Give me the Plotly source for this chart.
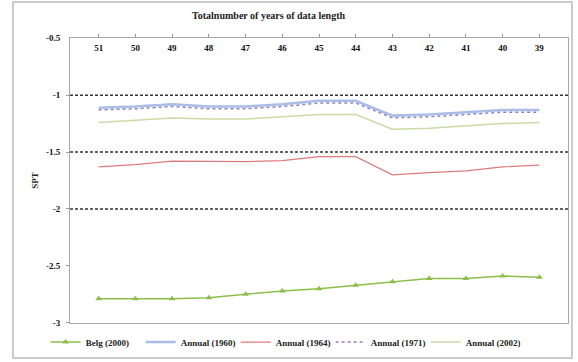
import plotly.graph_objects as go

years = ["51", "50", "49", "48", "47", "46", "45", "44", "43", "42", "41", "40", "39"]
belg_2000 = [-2.79, -2.79, -2.79, -2.78, -2.75, -2.72, -2.70, -2.67, -2.64, -2.61, -2.61, -2.59, -2.60]
annual_1960 = [-1.11, -1.10, -1.08, -1.10, -1.10, -1.08, -1.05, -1.05, -1.18, -1.17, -1.15, -1.13, -1.13]
annual_1964 = [-1.63, -1.61, -1.58, -1.58, -1.585, -1.575, -1.54, -1.54, -1.70, -1.68, -1.665, -1.63, -1.615]
annual_1971 = [-1.13, -1.12, -1.10, -1.12, -1.12, -1.10, -1.07, -1.07, -1.20, -1.19, -1.17, -1.15, -1.15]
annual_2002 = [-1.24, -1.22, -1.20, -1.21, -1.21, -1.19, -1.17, -1.17, -1.30, -1.29, -1.27, -1.25, -1.24]
ref_levels = [-1, -1.5, -2]
ytick_vals = [-0.5, -1, -1.5, -2, -2.5, -3]
ytick_text = ["-0.5", "-1", "-1.5", "-2", "-2.5", "-3"]

FONT = "Liberation Serif"

fig = go.Figure()
fig.add_trace(go.Scatter(x=years, y=belg_2000, name="<b>Belg (2000)</b>", mode="lines+markers",
                         line=dict(color="#8CBF4A", width=1.5),
                         marker=dict(symbol="triangle-up", size=6, color="#8CBF4A")))
fig.add_trace(go.Scatter(x=years, y=annual_1960, name="<b>Annual (1960)</b>", mode="lines",
                         line=dict(color="#A9BDE6", width=2.5)))
fig.add_trace(go.Scatter(x=years, y=annual_1964, name="<b>Annual (1964)</b>", mode="lines",
                         line=dict(color="#E07A7A", width=1.2)))
fig.add_trace(go.Scatter(x=years, y=annual_1971, name="<b>Annual (1971)</b>", mode="lines",
                         line=dict(color="#8A86C8", width=1.5, dash="dot")))
fig.add_trace(go.Scatter(x=years, y=annual_2002, name="<b>Annual (2002)</b>", mode="lines",
                         line=dict(color="#CADBA6", width=1.5)))

for lv in ref_levels:
    fig.add_shape(type="line", xref="paper", x0=0, x1=1, yref="y", y0=lv, y1=lv,
                  line=dict(color="#333333", width=1.5, dash="3px,2px"), layer="below")

# outer frame
fig.add_shape(type="rect", xref="paper", yref="paper", x0=-0.1145, x1=1.008, y0=-0.123, y1=1.126,
              line=dict(color="#BBBBBB", width=1.5), layer="below")

fig.add_annotation(text="<b>Totalnumber of years of data length</b>", xref="paper", yref="paper",
                   x=0.40, y=1.08, xanchor="center", yanchor="middle", showarrow=False,
                   font=dict(family=FONT, size=10, color="#222222"))

# top tick label hidden by plotly next to the inside x labels: draw it as text at its tick
fig.add_annotation(text="<b>%s</b>" % ytick_text[0], xref="paper", yref="y",
                   x=0, y=ytick_vals[0], xanchor="right", yanchor="middle", xshift=-7,
                   showarrow=False, font=dict(family=FONT, size=9, color="#111111"))

fig.update_layout(
    width=578, height=362,
    margin=dict(l=70, r=10, t=38, b=39, autoexpand=False),
    paper_bgcolor="white", plot_bgcolor="white",
    font=dict(family=FONT, size=8, color="#222222"),
    showlegend=True,
    legend=dict(orientation="h", x=0.428, xanchor="center", y=-0.067, yanchor="middle",
                font=dict(family=FONT, size=9), itemwidth=30, tracegroupgap=0,
                entrywidth=50, entrywidthmode="pixels",
                bgcolor="rgba(0,0,0,0)"),
    xaxis=dict(type="category", side="top", ticklabelposition="inside", automargin=False,
               ticks="outside", ticklen=3, tickcolor="#999999", ticklabelstandoff=6,
               showgrid=False, zeroline=False, showline=True, linecolor="#A8A8A8",
               linewidth=1, mirror=True,
               tickfont=dict(family=FONT, size=9, color="#111111"),
               tickprefix="<b>", ticksuffix="</b>"),
    yaxis=dict(range=[-3.002, -0.498], tickvals=ytick_vals, ticktext=["<b>%s</b>" % t for t in ytick_text],
               ticks="outside", ticklen=3, tickcolor="#999999", ticklabelstandoff=4, automargin=False,
               showgrid=False, zeroline=False, showline=True, linecolor="#A8A8A8",
               linewidth=1, mirror=True,
               tickfont=dict(family=FONT, size=9, color="#111111"),
               title=dict(text="<b>SPT</b>", font=dict(family=FONT, size=9), standoff=5)),
)

fig.write_html("out.html")
